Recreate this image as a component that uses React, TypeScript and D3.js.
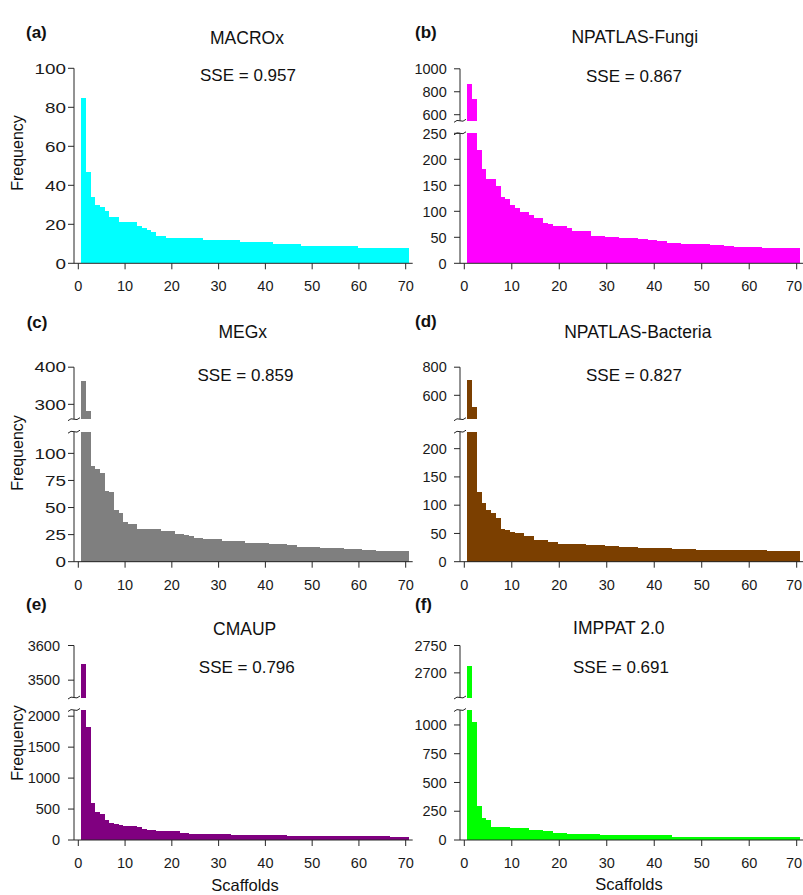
import React, { useEffect, useRef } from 'react';
import * as d3 from 'd3';

// scaffold rank on the x axis (1..70)
const scaffoldRank = d3.range(1, 71);
const xTicks = [0, 10, 20, 30, 40, 50, 60, 70];

// frequencies, one array per database
const macroxFreq = [
  85, 47, 34, 30, 29, 27, 24, 24, 21, 21, 21, 21, 19, 18, 17, 16, 14, 14,
  13, 13, 13, 13, 13, 13, 13, 13,
  12, 12, 12, 12, 12, 12, 12, 12,
  11, 11, 11, 11, 11, 11, 11,
  10, 10, 10, 10, 10, 10,
  9, 9, 9, 9, 9, 9, 9, 9, 9, 9, 9, 9,
  8, 8, 8, 8, 8, 8, 8, 8, 8, 8, 8,
];
const npatlasFungiFreq = [
  870, 735, 218, 181, 162, 162, 149, 127, 124, 112,
  107, 98, 98, 92, 87, 87, 77, 75, 72, 72,
  72, 67, 63, 63, 63, 63, 52, 52, 52, 50,
  50, 50, 48, 48, 48, 48, 47, 47, 44, 44,
  42, 42, 40, 40, 40, 38, 38, 38, 37, 37,
  37, 35, 35, 35, 34, 34, 32, 32, 32, 32,
  31, 31, 29, 29, 29, 29, 29, 29, 29, 29,
];
const megxFreq = [
  363, 281, 88, 86, 82, 65, 64, 48, 45, 37, 35, 35,
  30, 30, 30, 30, 30, 28, 28, 28, 26, 26, 25, 24, 22, 22,
  21, 21, 21, 21, 19, 19, 19, 19, 19, 17, 17, 17, 17, 17,
  16, 16, 16, 16, 15, 15, 14, 14, 14, 14, 14,
  13, 13, 13, 13, 13, 12, 12, 12, 12, 11, 11, 11,
  10, 10, 10, 10, 10, 10, 10,
];
const npatlasBacteriaFreq = [
  710, 517, 123, 103, 91, 86, 78, 57, 56, 53, 51, 50, 46, 45, 38, 38, 38, 35, 35,
  32, 32, 32, 32, 32, 32, 29, 29, 29, 29,
  27, 27, 27, 26, 26, 26, 26, 24, 24, 24, 24, 24, 24, 24,
  22, 22, 22, 22, 22,
  21, 21, 21, 21, 21, 21, 21, 20, 20, 20, 20, 20, 20, 20, 20,
  19, 19, 19, 19, 19, 19, 19,
];
const cmaupFreq = [
  3546, 1822, 595, 459, 421, 324, 281, 265, 238, 227, 227, 227, 205, 184,
  162, 162, 151, 151, 151, 151, 151, 113, 113,
  97, 97, 97, 97, 97, 97, 97, 97, 97,
  81, 81, 81, 81, 81, 81, 81, 81, 81, 81, 81, 81,
  65, 65, 65, 65, 65, 65, 65, 65, 65, 65, 65, 65,
  59, 59, 59, 59, 59, 59, 59, 59, 59, 59,
  49, 49, 49, 49,
];
const imppatFreq = [
  2712, 1026, 297, 192, 174, 116, 116, 116, 116, 102, 102, 102, 102,
  87, 87, 87, 78, 78, 64, 64, 64,
  49, 49, 49, 49, 49, 49, 49,
  41, 41, 41, 41, 41, 41, 41, 41, 41, 41, 41, 41, 41, 41, 41,
  29, 29, 29, 29, 29, 29, 29, 29, 29, 29,
  23, 23, 23, 23, 23, 23, 23, 23, 23, 23, 23, 23, 23, 23, 23, 23, 23,
];

const panelTags = ['(a)', '(b)', '(c)', '(d)', '(e)', '(f)'];
const panelTitles = ['MACROx', 'NPATLAS-Fungi', 'MEGx', 'NPATLAS-Bacteria', 'CMAUP', 'IMPPAT 2.0'];
const sseValues = ['0.957', '0.867', '0.859', '0.827', '0.796', '0.691'];
const seriesFreq = [macroxFreq, npatlasFungiFreq, megxFreq, npatlasBacteriaFreq, cmaupFreq, imppatFreq];
const barColors = ['#00FFFF', '#FF00FF', '#7F7F7F', '#7B3F00', '#800080', '#00FF00'];

// broken y axes: lower part [0, lowerMax], optional upper part [from, to]
const lowerMax = [100, 250, 120, 230, 2100, 1130];
const upperDomain: ([number, number] | null)[] = [null, [547, 1000], [260, 400], [430, 800], [3450, 3600], [2655, 2750]];
const lowerTicks = [
  [0, 20, 40, 60, 80, 100],
  [0, 50, 100, 150, 200, 250],
  [0, 25, 50, 75, 100],
  [0, 50, 100, 150, 200],
  [0, 500, 1000, 1500, 2000],
  [0, 250, 500, 750, 1000],
];
const upperTicks = [[], [600, 800, 1000], [300, 400], [600, 800], [3500, 3600], [2700, 2750]];

// layout
const W = 803;
const H = 895;
const FONT = '"Liberation Sans", Arial, Helvetica, sans-serif';
const columns = [
  { axis: 74, x0: 78.3, x70: 405.7 },
  { axis: 460, x0: 464.3, x70: 796.7 },
];
const rowBase = [263.3, 561.7, 840];
const FULL_H = 195;
const LOWER_H = 130;
const UPPER_BOTTOM = 142.5;
const UPPER_TOP = 194.5;
const AXIS_COLOR = '#262626';

const panelLayout = [
  { tag: [26, 38], title: [247, 44], sse: [248, 81], ylab: [23, 153], tickDx: -8, tickStretch: 1.3 },
  { tag: [415, 38], title: [634.8, 43.3], sse: [634, 81.7], tickDx: -13.3, tickStretch: 1 },
  { tag: [26.7, 328], title: [242.7, 338.3], sse: [245.5, 380.7], ylab: [23, 453], tickDx: -8, tickStretch: 1.3 },
  { tag: [415, 327], title: [637.8, 337.7], sse: [634, 380.7], tickDx: -13.3, tickStretch: 1 },
  { tag: [26, 610], title: [244.7, 635], sse: [246.8, 672.7], ylab: [23, 743], xlab: [245, 891], tickDx: -14, tickStretch: 1 },
  { tag: [415, 610], title: [618.8, 634.3], sse: [621, 672.7], xlab: [629, 890], tickDx: -13.3, tickStretch: 1 },
];

export default function App() {
  const svgRef = useRef<SVGSVGElement>(null);

  useEffect(() => {
    const svg = d3.select(svgRef.current);
    svg.selectAll('*').remove();
    svg.append('rect').attr('width', W).attr('height', H).attr('fill', '#ffffff');

    seriesFreq.forEach((freq, i) => {
      const col = columns[i % 2];
      const y0 = rowBase[Math.floor(i / 2)];
      const lay = panelLayout[i];
      const upper = upperDomain[i];
      const g = svg.append('g').style('font-family', FONT);

      const x = d3.scaleLinear().domain([0, 70]).range([col.x0, col.x70]);
      const band = d3.scaleBand<number>().domain(scaffoldRank).range([x(0.5), x(70.6)]).padding(0);
      const yLow = d3.scaleLinear()
        .domain([0, lowerMax[i]])
        .range([y0, upper ? y0 - LOWER_H : y0 - FULL_H]);
      const yUp = upper
        ? d3.scaleLinear().domain(upper).range([y0 - UPPER_BOTTOM, y0 - UPPER_TOP])
        : null;

      const data = scaffoldRank.map((r, k) => ({ rank: r, value: freq[k] }));

      // lower bars (clipped at the break)
      g.append('g')
        .attr('shape-rendering', 'crispEdges')
        .selectAll('rect')
        .data(data)
        .join('rect')
        .attr('x', d => band(d.rank)!)
        .attr('width', band.bandwidth() + 0.6)
        .attr('y', d => yLow(Math.min(d.value, lowerMax[i])))
        .attr('height', d => y0 - yLow(Math.min(d.value, lowerMax[i])))
        .attr('fill', barColors[i]);

      // upper bars above the break
      if (upper && yUp) {
        g.append('g')
          .attr('shape-rendering', 'crispEdges')
          .selectAll('rect')
          .data(data.filter(d => d.value > upper[0]))
          .join('rect')
          .attr('x', d => band(d.rank)!)
          .attr('width', band.bandwidth() + 0.6)
          .attr('y', d => yUp(Math.min(d.value, upper[1])))
          .attr('height', d => yUp(upper[0]) - yUp(Math.min(d.value, upper[1])))
          .attr('fill', barColors[i]);
      }

      // x axis
      const ax = g.append('g').attr('stroke', AXIS_COLOR).attr('stroke-width', 1).attr('fill', 'none');
      ax.append('line')
        .attr('x1', col.axis).attr('x2', Math.min(x(70) + 7, W))
        .attr('y1', y0).attr('y2', y0);
      ax.selectAll('line.xt')
        .data(xTicks)
        .join('line')
        .attr('class', 'xt')
        .attr('x1', d => x(d)).attr('x2', d => x(d))
        .attr('y1', y0).attr('y2', y0 + 6);
      g.append('g').selectAll('text')
        .data(xTicks)
        .join('text')
        .attr('x', d => Math.min(x(d), W - 9))
        .attr('y', y0 + 28)
        .attr('text-anchor', 'middle')
        .attr('font-size', 14.5)
        .attr('fill', '#1a1a1a')
        .text(d => d);

      // y axis segments
      const yTickData: { v: number; y: number }[] = lowerTicks[i].map(v => ({ v, y: yLow(v) }));
      if (upper && yUp) {
        upperTicks[i].forEach(v => yTickData.push({ v, y: yUp(v) }));
        ax.append('line')
          .attr('x1', col.axis).attr('x2', col.axis)
          .attr('y1', y0).attr('y2', y0 - LOWER_H);
        ax.append('line')
          .attr('x1', col.axis).attr('x2', col.axis)
          .attr('y1', y0 - UPPER_BOTTOM).attr('y2', y0 - UPPER_TOP);
        // break marks
        [y0 - LOWER_H, y0 - UPPER_BOTTOM].forEach(by => {
          const a = col.axis;
          ax.append('path')
            .attr('d', `M${a - 6},${by + 1.5} Q${a - 3},${by - 1.5} ${a},${by} Q${a + 3},${by + 1.5} ${a + 6},${by - 1.5}`);
        });
      } else {
        ax.append('line')
          .attr('x1', col.axis).attr('x2', col.axis)
          .attr('y1', y0).attr('y2', y0 - FULL_H);
      }
      ax.selectAll('line.yt')
        .data(yTickData)
        .join('line')
        .attr('class', 'yt')
        .attr('x1', col.axis - 6).attr('x2', col.axis)
        .attr('y1', d => d.y).attr('y2', d => d.y);
      g.append('g').selectAll('text')
        .data(yTickData)
        .join('text')
        .attr('transform', d => `translate(${col.axis + lay.tickDx},${d.y}) scale(${lay.tickStretch},1)`)
        .attr('dy', '0.36em')
        .attr('text-anchor', 'end')
        .attr('font-size', 14.5)
        .attr('fill', '#1a1a1a')
        .text(d => d.v);

      // texts
      g.append('text')
        .attr('x', lay.tag[0]).attr('y', lay.tag[1])
        .attr('font-size', 17).attr('font-weight', 'bold')
        .attr('fill', '#111')
        .text(panelTags[i]);
      g.append('text')
        .attr('x', lay.title[0]).attr('y', lay.title[1])
        .attr('text-anchor', 'middle')
        .attr('font-size', 17.5)
        .attr('fill', '#111')
        .text(panelTitles[i]);
      g.append('text')
        .attr('x', lay.sse[0]).attr('y', lay.sse[1])
        .attr('text-anchor', 'middle')
        .attr('font-size', 17)
        .attr('fill', '#111')
        .text(`SSE = ${sseValues[i]}`);
      if (lay.ylab) {
        g.append('text')
          .attr('transform', `translate(${lay.ylab[0]},${lay.ylab[1]}) rotate(-90)`)
          .attr('text-anchor', 'middle')
          .attr('font-size', 16)
          .attr('fill', '#111')
          .text('Frequency');
      }
      if (lay.xlab) {
        g.append('text')
          .attr('x', lay.xlab[0]).attr('y', lay.xlab[1])
          .attr('text-anchor', 'middle')
          .attr('font-size', 16.5)
          .attr('fill', '#111')
          .text('Scaffolds');
      }
    });
  }, []);

  return (
    <svg
      ref={svgRef}
      width={W}
      height={H}
      style={{ position: 'absolute', left: 0, top: 0, display: 'block' }}
    />
  );
}
